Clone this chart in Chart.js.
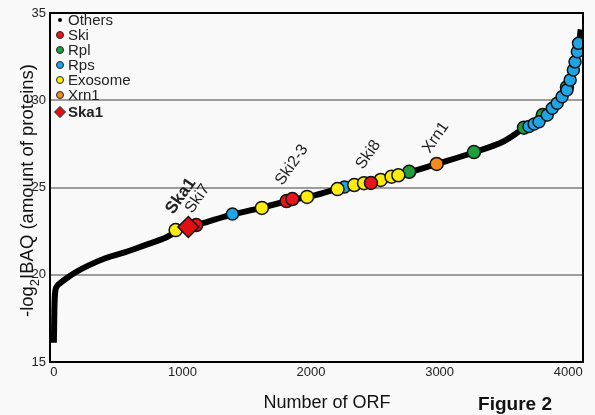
<!DOCTYPE html>
<html>
<head>
<meta charset="utf-8">
<script src="https://cdn.jsdelivr.net/npm/chart.js@4.4.0/dist/chart.umd.min.js"></script>
<style>
  html, body { margin: 0; padding: 0; background: #f9f9f9; }
  canvas { display: block; }
</style>
</head>
<body>
<canvas id="orfChart" width="595" height="415"></canvas>
<script>
// ---------------- Data ----------------
const orfRank = [0, 2, 4, 7, 12, 25, 46, 99, 176, 275, 405, 557, 710, 863, 939, 1050, 1200, 1400, 1620,
    1860, 2000, 2200, 2470, 2680, 2770, 2980, 3270, 3500, 3660, 3770, 3840, 3910, 3950, 3990, 4015,
    4040, 4055, 4071, 4080, 4090, 4097];
const orfIbaq = [16.1, 17.0, 18.0, 18.7, 19.1, 19.35, 19.5, 19.8, 20.17, 20.55, 20.96, 21.3, 21.7, 22.1, 22.4,
    22.72, 23.05, 23.47, 23.85, 24.3, 24.5, 24.9, 25.26, 25.67, 25.88, 26.35, 27.02, 27.65, 28.4, 28.75,
    29.15, 29.8, 30.2, 30.6, 31.15, 31.7, 32.2, 32.78, 33.26, 33.6, 34.06];

const skiRank = [1107, 1810, 1855, 2466];
const skiIbaq = [22.85, 24.22, 24.34, 25.26];
const skiNames = ['Ski7', '', 'Ski2-3', 'Ski8'];

const rplRank = [2763, 3267, 3656, 3802, 3990];
const rplIbaq = [25.9, 27.03, 28.43, 29.15, 30.75];

const rpsRank = [1389, 2260, 3695, 3735, 3773, 3837, 3876, 3914, 3952, 3990, 4015, 4040, 4053, 4071, 4080];
const rpsIbaq = [23.48, 25.03, 28.5, 28.64, 28.77, 29.15, 29.54, 29.83, 30.2, 30.59, 31.16, 31.73, 32.2, 32.78, 33.26];

const exoRank = [947, 1618, 1969, 2206, 2336, 2412, 2542, 2626, 2679];
const exoIbaq = [22.56, 23.83, 24.46, 24.91, 25.14, 25.25, 25.43, 25.62, 25.7];

const xrnRank = [2977];
const xrnIbaq = [26.35];

const ska1Rank = [1046];
const ska1Ibaq = [22.74];

const xTicks = [0, 1000, 2000, 3000, 4000];
const yTicks = [15, 20, 25, 30, 35];

const toPoints = (xs, ys) => xs.map((x, i) => ({ x: x, y: ys[i] }));

// ---------------- Plugins ----------------
const FONT = "'Liberation Sans', Arial, sans-serif";

const framePlugin = {
    id: 'frame',
    afterDatasetsDraw(chart) {
        const { ctx, chartArea: a } = chart;
        ctx.save();
        ctx.strokeStyle = '#000';
        ctx.lineWidth = 2;
        ctx.strokeRect(a.left, a.top, a.right - a.left, a.bottom - a.top);
        ctx.restore();
    }
};

// rotated names next to the highlighted proteins
const tagPlugin = {
    id: 'tags',
    afterDatasetsDraw(chart) {
        const { ctx } = chart;
        const xs = chart.scales.x, ys = chart.scales.y;
        const tags = [];
        skiNames.forEach((n, i) => { if (n) tags.push({ text: n, x: skiRank[i], y: skiIbaq[i], bold: false }); });
        tags.push({ text: 'Xrn1', x: xrnRank[0], y: xrnIbaq[0], bold: false });
        tags.push({ text: 'Ska1', x: ska1Rank[0], y: ska1Ibaq[0], bold: true });
        const offs = { 'Ski7': [-4, -11], 'Ski2-3': [-10, -13], 'Ski8': [-8, -13], 'Xrn1': [-7, -10], 'Ska1': [-15, -12] };
        ctx.save();
        ctx.fillStyle = '#222';
        tags.forEach(t => {
            const o = offs[t.text];
            ctx.save();
            ctx.translate(xs.getPixelForValue(t.x) + o[0], ys.getPixelForValue(t.y) + o[1]);
            ctx.rotate(-55 * Math.PI / 180);
            ctx.font = (t.bold ? 'bold 17px ' : '16px ') + FONT;
            ctx.textAlign = 'left';
            ctx.textBaseline = 'alphabetic';
            ctx.fillText(t.text, 0, 0);
            ctx.restore();
        });
        ctx.restore();
    }
};

// legend in the top-left corner of the plot
const legendPlugin = {
    id: 'cornerLegend',
    afterDraw(chart) {
        const { ctx, chartArea: a } = chart;
        ctx.save();
        chart.data.datasets.forEach((ds, i) => {
            const cy = a.top + 7 + i * 15 + (ds.label === 'Ska1' ? 2 : 0);
            const cx = a.left + 10;
            ctx.beginPath();
            if (ds.label === 'Others') {
                ctx.arc(cx, cy, 2, 0, Math.PI * 2);
                ctx.fillStyle = '#000';
                ctx.fill();
            } else if (ds.label === 'Ska1') {
                ctx.moveTo(cx, cy - 5.5); ctx.lineTo(cx + 5.5, cy); ctx.lineTo(cx, cy + 5.5); ctx.lineTo(cx - 5.5, cy);
                ctx.closePath();
                ctx.fillStyle = ds.backgroundColor;
                ctx.fill();
                ctx.lineWidth = 1;
                ctx.strokeStyle = '#222';
                ctx.stroke();
            } else {
                ctx.arc(cx, cy, 3.5, 0, Math.PI * 2);
                ctx.fillStyle = ds.backgroundColor;
                ctx.fill();
                ctx.lineWidth = 1;
                ctx.strokeStyle = '#222';
                ctx.stroke();
            }
            ctx.fillStyle = '#222';
            ctx.font = (ds.label === 'Ska1' ? 'bold 15px ' : '15px ') + FONT;
            ctx.textBaseline = 'middle';
            ctx.textAlign = 'left';
            ctx.fillText(ds.label, cx + 8, cy + 1);
        });
        ctx.restore();
    }
};

// axis titles (y title has a subscript), figure tag
const titlePlugin = {
    id: 'titles',
    afterDraw(chart) {
        const { ctx, chartArea: a } = chart;
        ctx.save();
        ctx.fillStyle = '#111';
        ctx.textBaseline = 'alphabetic';
        ctx.textAlign = 'left';
        const parts = [['-log', 18.5, 0], ['2', 13, 6], ['IBAQ (amount of proteins)', 18.5, 0]];
        let total = 0;
        parts.forEach(p => { ctx.font = p[1] + 'px ' + FONT; p.push(ctx.measureText(p[0]).width); total += p[3]; });
        ctx.translate(33, (a.top + a.bottom) / 2 + 3);
        ctx.rotate(-Math.PI / 2);
        let x = -total / 2;
        parts.forEach(p => {
            ctx.font = p[1] + 'px ' + FONT;
            ctx.fillText(p[0], x, p[2]);
            x += p[3];
        });
        ctx.restore();

        ctx.save();
        ctx.fillStyle = '#111';
        ctx.textAlign = 'center';
        ctx.textBaseline = 'middle';
        ctx.font = '18px ' + FONT;
        ctx.fillText('Number of ORF', 327, 403);
        ctx.font = 'bold 19px ' + FONT;
        ctx.fillText('Figure 2', 515, 405);
        ctx.restore();
    }
};

// ---------------- Chart ----------------
const ctx = document.getElementById('orfChart').getContext('2d');
const dot = (label, xs, ys, color, order, extra) => Object.assign({
    type: 'scatter', label: label, data: toPoints(xs, ys),
    backgroundColor: color, borderColor: '#111', borderWidth: 1.5,
    pointRadius: 6.5, pointHoverRadius: 6.5, order: order
}, extra || {});

new Chart(ctx, {
    data: {
        datasets: [
            {
                type: 'line', label: 'Others', data: toPoints(orfRank, orfIbaq),
                borderColor: '#000', backgroundColor: '#000', borderWidth: 6,
                pointRadius: 0, cubicInterpolationMode: 'monotone', fill: false, order: 10
            },
            dot('Ski', skiRank, skiIbaq, '#e8141c', 1),
            dot('Rpl', rplRank, rplIbaq, '#1f9e3f', 5),
            dot('Rps', rpsRank, rpsIbaq, '#1ea5e6', 4, { pointRadius: 6, pointHoverRadius: 6 }),
            dot('Exosome', exoRank, exoIbaq, '#fbec10', 3),
            dot('Xrn1', xrnRank, xrnIbaq, '#f28c1c', 2),
            dot('Ska1', ska1Rank, ska1Ibaq, '#e01010', 0, { pointStyle: 'rectRot', pointRadius: 10.5, pointHoverRadius: 10.5 })
        ]
    },
    options: {
        responsive: false,
        animation: false,
        devicePixelRatio: 1,
        layout: { padding: { top: 13, right: 2, left: 0, bottom: 0 } },
        plugins: { legend: { display: false }, tooltip: { enabled: false } },
        scales: {
            x: {
                type: 'linear', min: -30, max: 4115,
                afterBuildTicks: s => { s.ticks = xTicks.map(v => ({ value: v })); },
                afterFit: s => { s.height = 53; },
                grid: { display: false, drawTicks: false },
                border: { display: false },
                ticks: { color: '#222', padding: 3, font: { size: 13, family: FONT }, callback: v => String(v) }
            },
            y: {
                type: 'linear', min: 15, max: 35,
                afterBuildTicks: s => { s.ticks = yTicks.map(v => ({ value: v })); },
                afterFit: s => { s.width = 50; },
                grid: {
                    drawTicks: false, lineWidth: 2,
                    color: c => (c.tick && (c.tick.value === 15 || c.tick.value === 35)) ? 'rgba(0,0,0,0)' : '#9d9d9d'
                },
                border: { display: false },
                ticks: { color: '#222', padding: 4, font: { size: 13, family: FONT }, callback: v => String(v) }
            }
        }
    },
    plugins: [framePlugin, tagPlugin, legendPlugin, titlePlugin]
});
</script>
</body>
</html>
